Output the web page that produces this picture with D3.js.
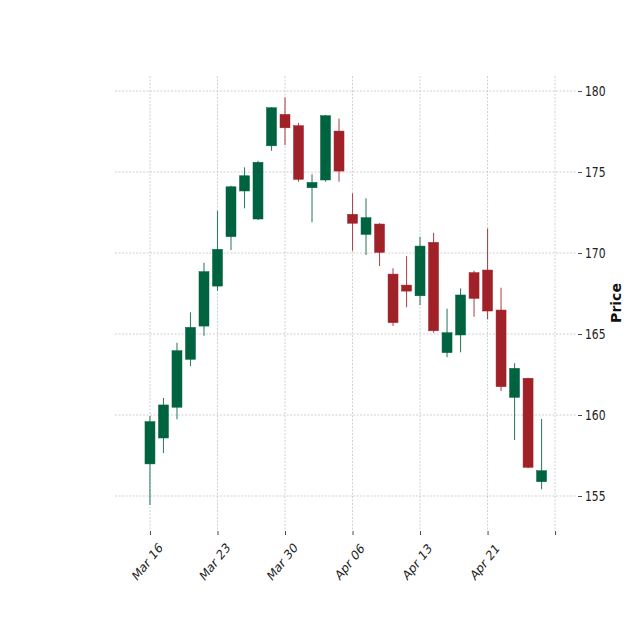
<!DOCTYPE html>
<html>
<head>
<meta charset="utf-8">
<script src="https://cdn.jsdelivr.net/npm/d3@7"></script>
<style>
  html, body { margin: 0; padding: 0; background: #fff; }
  svg { display: block; }
</style>
</head>
<body>
<svg id="chart" width="640" height="640"></svg>
<script>
// ---- data ----
const opens  = [156.98,158.58,160.48,163.44,165.49,167.96,171.01,173.83,172.10,176.62,
                178.56,177.86,174.03,174.51,177.53,172.39,171.15,171.79,168.70,168.02,
                167.36,170.66,163.85,164.94,168.79,168.95,166.48,161.09,162.27,155.88];
const highs  = [159.94,161.05,164.46,166.34,169.40,172.61,174.15,175.29,175.70,179.00,
                179.61,178.04,174.86,178.52,178.31,173.69,173.38,171.85,169.06,169.81,
                171.01,171.25,166.56,167.82,168.91,171.52,167.86,163.19,162.30,159.75];
const lows   = [154.44,157.65,159.73,163.02,164.90,167.67,170.19,172.76,172.04,176.31,
                176.67,174.40,171.90,174.40,174.40,170.14,169.88,169.20,165.49,166.65,
                166.79,165.08,163.56,163.87,166.07,165.91,161.48,158.46,156.71,155.41];
const closes = [159.59,160.62,163.97,165.41,168.85,170.23,174.09,174.77,175.60,178.97,
                177.73,174.55,174.36,178.48,175.06,171.84,172.18,170.04,165.70,167.65,
                170.43,165.20,165.08,167.41,167.20,166.42,161.75,162.88,156.77,156.56];
const tickIndex  = [0, 5, 10, 15, 20, 25, 30];
const tickLabels = ["Mar 16", "Mar 23", "Mar 30", "Apr 06", "Apr 13", "Apr 21", ""];
const yTicks = [155, 160, 165, 170, 175, 180];
const yLabel = "Price";

const UP = "#006340", DOWN = "#A02128";

const svg = d3.select("#chart");
const L = 115, R = 576, T = 76, B = 530;
const x = d3.scaleLinear().domain([-2.59, 31.55]).range([L, R]);
const y = d3.scaleLinear().domain([152.9, 180.93]).range([B, T]);

const grid = svg.append("g");
grid.selectAll("line.h").data(yTicks).join("line")
  .attr("x1", L).attr("x2", R)
  .attr("y1", d => y(d)).attr("y2", d => y(d))
  .attr("stroke", "#c4c4c4").attr("stroke-width", 0.8).attr("stroke-dasharray", "2,1.5");
grid.selectAll("line.v").data(tickIndex).join("line")
  .attr("x1", d => x(d)).attr("x2", d => x(d))
  .attr("y1", T).attr("y2", B)
  .attr("stroke", "#c4c4c4").attr("stroke-width", 0.8).attr("stroke-dasharray", "2,1.5");

// x axis
const xAxis = d3.axisBottom(x).tickValues(tickIndex).tickSize(4).tickPadding(0)
  .tickFormat((d, i) => tickLabels[i]);
const gx = svg.append("g").attr("transform", `translate(0,${B + 1})`).call(xAxis);
gx.select(".domain").remove();
gx.selectAll(".tick line").attr("stroke", "#333").attr("stroke-width", 0.9);
gx.selectAll(".tick text")
  .attr("y", 0).attr("dy", null)
  .attr("font-family", "DejaVu Sans, sans-serif").attr("font-size", 13.5).attr("fill", "#222")
  .attr("text-anchor", "middle").attr("dominant-baseline", "central")
  .attr("transform", "translate(-3,31) scale(0.8,1) rotate(-45)");

// y axis on right
const yAxis = d3.axisRight(y).tickValues(yTicks).tickSize(4).tickPadding(0).tickFormat(d3.format("d"));
const gy = svg.append("g").attr("transform", `translate(${R + 2},0)`).call(yAxis);
gy.select(".domain").remove();
gy.selectAll(".tick line").attr("stroke", "#333").attr("stroke-width", 0.9);
gy.selectAll(".tick text")
  .attr("x", 0).attr("dy", "0.35em")
  .attr("font-family", "DejaVu Sans, sans-serif").attr("font-size", 13.5).attr("fill", "#222")
  .attr("text-anchor", "start")
  .attr("transform", "translate(7,0) scale(0.8,1)");

svg.append("text")
  .attr("transform", `translate(621,${(T + B) / 2}) rotate(-90)`)
  .attr("text-anchor", "middle")
  .attr("font-family", "DejaVu Sans, sans-serif").attr("font-size", 14).attr("font-weight", "bold")
  .attr("fill", "#111")
  .text(yLabel);

// candles
const idx = d3.range(opens.length);
const col = i => closes[i] >= opens[i] ? UP : DOWN;
const candles = svg.append("g");
candles.selectAll("line.wick").data(idx).join("line")
  .attr("x1", i => x(i)).attr("x2", i => x(i))
  .attr("y1", i => y(highs[i])).attr("y2", i => y(lows[i]))
  .attr("stroke", col).attr("stroke-width", 1.1).attr("stroke-opacity", 0.8);
const hw = 0.37;
candles.selectAll("rect.body").data(idx).join("rect")
  .attr("x", i => x(i - hw))
  .attr("width", i => x(i + hw) - x(i - hw))
  .attr("y", i => y(Math.max(opens[i], closes[i])))
  .attr("height", i => Math.max(1, Math.abs(y(opens[i]) - y(closes[i]))))
  .attr("fill", col).attr("stroke", col).attr("stroke-width", 0.5);
</script>
</body>
</html>
